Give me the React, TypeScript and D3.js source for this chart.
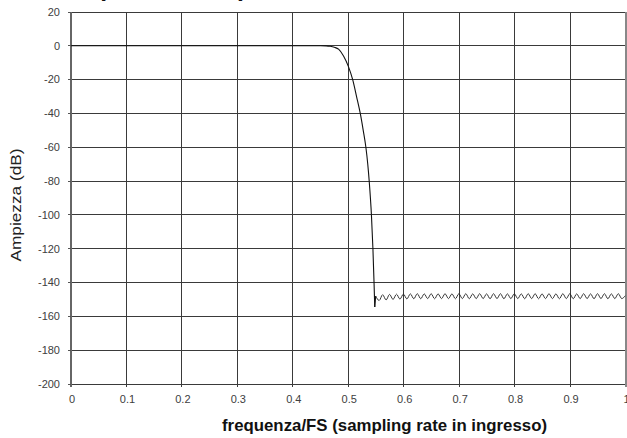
import React from "react";
import * as d3 from "d3";

const titleText = "Risposta in ampiezza";
const yTitle = "Ampiezza (dB)";
const xTitle = "frequenza/FS (sampling rate in ingresso)";

const xTicks = [0, 0.1, 0.2, 0.3, 0.4, 0.5, 0.6, 0.7, 0.8, 0.9, 1];
const xTickLabels = ["0", "0.1", "0.2", "0.3", "0.4", "0.5", "0.6", "0.7", "0.8", "0.9", "1"];
const yTicks = [20, 0, -20, -40, -60, -80, -100, -120, -140, -160, -180, -200];

// passband + transition band
const transFreq = [0, 0.45, 0.46, 0.4675, 0.475, 0.4825, 0.4915, 0.5, 0.508, 0.515, 0.5217, 0.527, 0.5318, 0.5352, 0.5378, 0.5418, 0.5445, 0.5465, 0.5478];
const transDb = [0, 0, -0.05, -0.3, -0.9, -2, -6, -12, -20, -30, -40, -50, -60, -70, -80, -100, -120, -140, -154.5];

// stopband ripple (alternating peaks/troughs), uniformly spaced in frequency
const stopStart = 0.5495;
const stopStep = 0.00625;
const stopDb = [
  -148.0, -150.6, -147.2, -150.3, -147.0, -150.0, -146.9, -149.8, -146.8, -149.7,
  -146.7, -149.6, -146.6, -149.6, -146.7, -149.5, -146.6, -149.6, -146.7, -149.5,
  -146.6, -149.5, -146.7, -149.6, -146.6, -149.5, -146.6, -149.6, -146.7, -149.5,
  -146.6, -149.5, -146.7, -149.6, -146.6, -149.5, -146.6, -149.6, -146.7, -149.5,
  -146.6, -149.5, -146.7, -149.6, -146.6, -149.5, -146.6, -149.6, -146.7, -149.5,
  -146.6, -149.5, -146.7, -149.6, -146.6, -149.5, -146.6, -149.6, -146.7, -149.5,
  -146.6, -149.5, -146.7, -149.6, -146.6, -149.5, -146.6, -149.6, -146.7, -149.5,
  -146.6, -149.5, -147.8,
];

export default function App() {
  const W = 627, H = 438;
  const x = d3.scaleLinear().domain([0, 1]).range([71, 625.5]);
  const y = d3.scaleLinear().domain([20, -200]).range([12, 384]);

  const trans = transFreq.map((f, i) => [f, transDb[i]] as [number, number]);
  const stop = stopDb.map((v, i) => [Math.min(1, stopStart + i * stopStep), v] as [number, number]);

  const lineT = d3.line<[number, number]>().x(d => x(d[0])).y(d => y(d[1])).curve(d3.curveMonotoneX);
  const lineS = d3.line<[number, number]>().x(d => x(d[0])).y(d => y(d[1])).curve(d3.curveMonotoneX);
  const joinPath = d3.line<[number, number]>().x(d => x(d[0])).y(d => y(d[1]));

  const gridColor = "#3a3a3a";
  const labelColor = "#404040";
  const font = "'Liberation Sans', Arial, sans-serif";

  return (
    <svg width={W} height={H} style={{ position: "absolute", left: 0, top: 0, background: "#fff" }}>
      <text x={62} y={-4} fontFamily={font} fontWeight="bold" fontSize={24.6} fill="#111">{titleText}</text>
      {/* horizontal grid */}
      {yTicks.map(t => (
        <line key={"h" + t} x1={x(0)} x2={x(1)} y1={y(t)} y2={y(t)} stroke={gridColor} strokeWidth={1} shapeRendering="crispEdges" />
      ))}
      {/* vertical grid */}
      {xTicks.slice(1, -1).map(t => (
        <line key={"v" + t} x1={x(t)} x2={x(t)} y1={y(20)} y2={y(-200) + 3} stroke={gridColor} strokeWidth={1} shapeRendering="crispEdges" />
      ))}
      {/* right border */}
      <line x1={x(1)} x2={x(1)} y1={y(20)} y2={y(-200) + 3} stroke="#888" strokeWidth={2} shapeRendering="crispEdges" />
      {/* left axis */}
      <line x1={x(0)} x2={x(0)} y1={y(20)} y2={y(-200) + 3} stroke="#666" strokeWidth={1.5} shapeRendering="crispEdges" />
      {yTicks.map(t => (
        <line key={"yt" + t} x1={x(0) - 3} x2={x(0)} y1={y(t)} y2={y(t)} stroke="#555" strokeWidth={1} shapeRendering="crispEdges" />
      ))}
      {yTicks.map(t => (
        <text key={"yl" + t} x={60} y={y(t)} dy="0.35em" textAnchor="end" fontFamily={font} fontSize={11} fill={labelColor}>{t}</text>
      ))}
      {xTicks.map((t, i) => (
        <text key={"xl" + t} x={x(t) + 1} y={y(-200) + 15} dy="0.35em" textAnchor="middle" fontFamily={font} fontSize={11} fill={labelColor}>{xTickLabels[i]}</text>
      ))}
      {/* curve */}
      <path d={lineT(trans) || ""} fill="none" stroke="#111" strokeWidth={1.1} />
      <path d={joinPath([trans[trans.length - 1], stop[0]]) || ""} fill="none" stroke="#111" strokeWidth={1.1} />
      <path d={lineS(stop) || ""} fill="none" stroke="#222" strokeWidth={0.9} />
      {/* axis titles */}
      <text transform={`translate(21,${205}) rotate(-90)`} textAnchor="middle" fontFamily={font} fontSize={15} fill="#222" textLength={113} lengthAdjust="spacingAndGlyphs">{yTitle}</text>
      <text x={384.5} y={431} textAnchor="middle" fontFamily="'Liberation Sans Narrow', 'Arial Narrow', 'Liberation Sans', sans-serif" fontWeight="bold" fontSize={17} fill="#111" textLength={325} lengthAdjust="spacingAndGlyphs">{xTitle}</text>
    </svg>
  );
}
